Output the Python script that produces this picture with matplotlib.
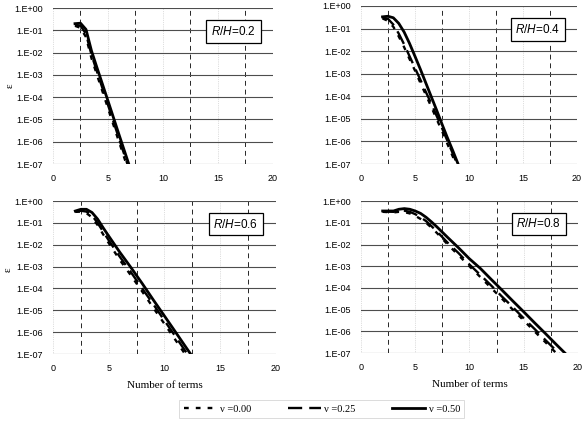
import matplotlib
matplotlib.use('Agg')
import matplotlib.pyplot as plt
from matplotlib.lines import Line2D

## Number of terms and error values
terms_02 = [2, 2.5, 3, 3.5, 4, 4.5, 5, 5.5, 6, 6.5, 7, 7.5]
eps_02_000 = [0.16, 0.13, 0.05, 5.6e-3, 1e-3, 1.8e-4, 3.2e-5, 5.6e-6, 1e-6, 1.8e-7, 3.2e-8, 5.6e-9]
eps_02_025 = [0.18, 0.16, 0.07, 8e-3, 1.4e-3, 2.5e-4, 4.5e-5, 7.9e-6, 1.4e-6, 2.5e-7, 4.5e-8, 8e-9]
eps_02_050 = [0.20, 0.21, 0.11, 1.2e-2, 2.1e-3, 3.8e-4, 6.8e-5, 1.2e-5, 2.1e-6, 3.8e-7, 6.8e-8, 1.2e-8]

terms_04 = [2, 2.5, 3, 3.5, 4, 4.5, 5, 5.5, 6, 6.5, 7, 7.5, 8, 8.5, 9, 9.5, 10]
eps_04_000 = [0.28, 0.22, 0.12, 0.045, 0.015, 4.5e-3, 1.4e-3, 4e-4, 1.2e-4, 3.6e-5, 1e-5, 3e-6, 8e-7, 2.2e-7, 6e-8, 1.6e-8, 4e-9]
eps_04_025 = [0.30, 0.27, 0.15, 0.06, 0.02, 6e-3, 1.8e-3, 5.5e-4, 1.6e-4, 5e-5, 1.4e-5, 4e-6, 1.1e-6, 3e-7, 8e-8, 2e-8, 5e-9]
eps_04_050 = [0.33, 0.35, 0.30, 0.17, 0.07, 0.022, 6e-3, 1.6e-3, 4e-4, 1e-4, 2.5e-5, 6e-6, 1.5e-6, 4e-7, 1e-7, 2.5e-8, 6e-9]

terms_06 = [2, 2.5, 3, 3.5, 4, 4.5, 5, 6, 7, 8, 9, 10, 11, 12, 13]
eps_06_000 = [0.32, 0.33, 0.28, 0.18, 0.08, 0.03, 0.012, 2.0e-3, 3.9e-4, 7.3e-5, 1.3e-5, 2.4e-6, 4.3e-7, 7.7e-8, 1.4e-8]
eps_06_025 = [0.33, 0.36, 0.33, 0.22, 0.10, 0.04, 0.016, 2.8e-3, 5.5e-4, 1.0e-4, 1.9e-5, 3.4e-6, 6.2e-7, 1.1e-7, 2e-8]
eps_06_050 = [0.35, 0.42, 0.42, 0.30, 0.15, 0.06, 0.025, 4.5e-3, 9e-4, 1.7e-4, 3e-5, 5.5e-6, 1e-6, 1.8e-7, 3.3e-8]

terms_08 = [2, 3, 3.5, 4, 4.5, 5, 5.5, 6, 6.5, 7, 8, 9, 10, 11, 12, 13, 14, 15, 16, 17, 18, 19, 20]
eps_08_000 = [0.32, 0.30, 0.32, 0.31, 0.27, 0.21, 0.15, 0.10, 0.06, 0.034, 0.01, 3.2e-3, 1e-3, 3.2e-4, 1e-4,
              3.2e-5, 1e-5, 3.2e-6, 1e-6, 3.2e-7, 1e-7, 3.2e-8, 1e-8]
eps_08_025 = [0.33, 0.32, 0.36, 0.36, 0.32, 0.25, 0.18, 0.12, 0.07, 0.04, 0.012, 4e-3, 1.2e-3, 4e-4, 1.3e-4,
              4e-5, 1.3e-5, 4e-6, 1.3e-6, 4e-7, 1.3e-7, 4e-8, 1.3e-8]
eps_08_050 = [0.35, 0.35, 0.42, 0.45, 0.42, 0.35, 0.27, 0.18, 0.11, 0.065, 0.021, 7e-3, 2.2e-3, 8e-4, 2.5e-4,
              8e-5, 2.5e-5, 8e-6, 2.5e-6, 8e-7, 2.5e-7, 8e-8, 2.5e-8]

ratios = ['0.2', '0.4', '0.6', '0.8']
nu_labels = ['\u03bd =0.00', '\u03bd =0.25', '\u03bd =0.50']
y_ticks = [1e0, 1e-1, 1e-2, 1e-3, 1e-4, 1e-5, 1e-6, 1e-7]
y_tick_labels = ['1.E+00', '1.E-01', '1.E-02', '1.E-03', '1.E-04', '1.E-05', '1.E-06', '1.E-07']
x_ticks = [0, 5, 10, 15, 20]

tick_font = {'family': 'Liberation Sans', 'size': 6.5}
serif_font = {'family': 'Liberation Serif', 'size': 8}

styles = [dict(color='black', lw=1.7, dashes=(2, 3)),
          dict(color='black', lw=1.7, dashes=(6, 3)),
          dict(color='black', lw=2.0, ls='-')]


def plt_panel(fig, rect, terms, series, ratio, show_xlabel):
    ax = fig.add_axes(rect)
    for eps, st in zip(series, styles):
        ax.plot(terms, eps, **st)

    ax.set_yscale('log')
    ax.set_ylim(1e-7, 1e0)
    ax.set_xlim(0, 20)
    ax.set_yticks(y_ticks)
    ax.set_yticklabels(y_tick_labels, **tick_font)
    ax.minorticks_off()
    ax.set_xticks(x_ticks)
    ax.set_xticklabels([str(t) for t in x_ticks], **tick_font)
    ax.set_xticks([2.5, 7.5, 12.5, 17.5], minor=True)
    ax.tick_params(axis='both', which='both', length=0)
    ax.tick_params(axis='y', pad=7)
    ax.tick_params(axis='x', pad=7)

    ## Excel-like gridlines
    ax.grid(True, axis='y', which='major', color='0.3', lw=0.8, ls='-')
    ax.grid(True, axis='x', which='minor', color='0.15', lw=0.7, ls=(0, (5, 4)))
    ax.grid(True, axis='x', which='major', color='0.75', lw=0.5, ls=':')
    for s in ax.spines.values():
        s.set_visible(False)
    ax.set_axisbelow(True)

    ax.text(0.82, 0.85, r'$R/H$=' + ratio, transform=ax.transAxes, ha='center', va='center',
            fontsize=8.5, family='Liberation Sans',
            bbox=dict(boxstyle='square,pad=0.4', fc='white', ec='black', lw=0.9))

    if show_xlabel:
        ax.set_xlabel('Number of terms', labelpad=6, **serif_font)
    return ax


def main():
    plt.rcParams['mathtext.fontset'] = 'custom'
    plt.rcParams['mathtext.it'] = 'Liberation Sans:italic'
    plt.rcParams['mathtext.rm'] = 'Liberation Sans'
    fig = plt.figure(figsize=(5.85, 4.26), dpi=100)

    plt_panel(fig, [0.0906, 0.615, 0.376, 0.366], terms_02,
              [eps_02_000, eps_02_025, eps_02_050], ratios[0], False)
    plt_panel(fig, [0.617, 0.615, 0.369, 0.371], terms_04,
              [eps_04_000, eps_04_025, eps_04_050], ratios[1], False)
    plt_panel(fig, [0.0906, 0.169, 0.381, 0.359], terms_06,
              [eps_06_000, eps_06_025, eps_06_050], ratios[2], True)
    plt_panel(fig, [0.617, 0.171, 0.371, 0.357], terms_08,
              [eps_08_000, eps_08_025, eps_08_050], ratios[3], True)

    ## epsilon labels on the left panels
    fig.text(0.018, 0.80, '\u03b5', rotation=90, ha='center', va='center', **serif_font)
    fig.text(0.014, 0.366, '\u03b5', rotation=90, ha='center', va='center', **serif_font)

    handles = [Line2D([], [], **st) for st in styles]
    leg = fig.legend(handles, nu_labels, loc='center', bbox_to_anchor=(0.55, 0.04), ncol=3,
                     frameon=True, fancybox=False, edgecolor='0.8', handlelength=3.2,
                     columnspacing=3.5, handletextpad=0.3, prop={'family': 'Liberation Serif', 'size': 7.5})
    leg.get_frame().set_linewidth(0.6)

    fig.savefig('out.png', dpi=100)


if __name__ == '__main__':
    main()
